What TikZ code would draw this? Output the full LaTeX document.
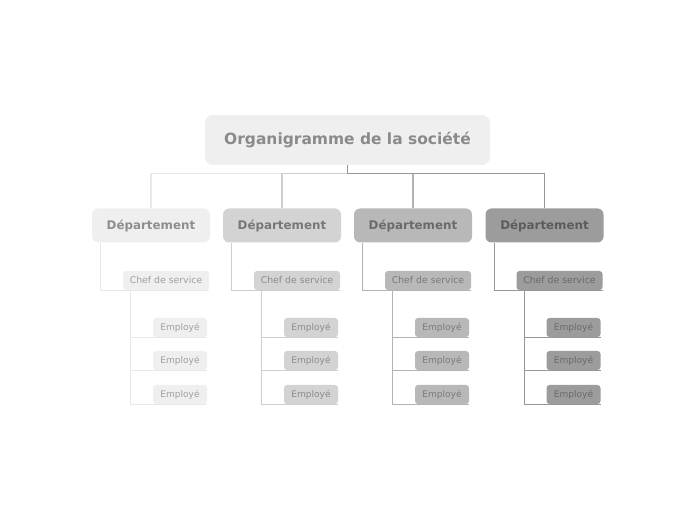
\documentclass[tikz,border=0pt]{standalone}
\usepackage{fontspec}
\setmainfont{DejaVu Sans}
\usetikzlibrary{backgrounds}
\definecolor{rootfill}{HTML}{EFEFEF}
\definecolor{roottext}{HTML}{8A8A8A}
\definecolor{fill1}{HTML}{EFEFEF}
\definecolor{fill2}{HTML}{D3D3D3}
\definecolor{fill3}{HTML}{B8B8B8}
\definecolor{fill4}{HTML}{9C9C9C}
\definecolor{line1}{HTML}{E8E8E8}
\definecolor{line2}{HTML}{CECECE}
\definecolor{line3}{HTML}{B3B3B3}
\definecolor{line4}{HTML}{979797}
\definecolor{depttext1}{HTML}{8E8E8E}
\definecolor{depttext2}{HTML}{777777}
\definecolor{depttext3}{HTML}{6A6A6A}
\definecolor{depttext4}{HTML}{5C5C5C}
\definecolor{subtext1}{HTML}{A0A0A0}
\definecolor{subtext2}{HTML}{8C8C8C}
\definecolor{subtext3}{HTML}{7A7A7A}
\definecolor{subtext4}{HTML}{6A6A6A}
\begin{document}
\begin{tikzpicture}[x=0.75pt,y=-0.75pt,
  box/.style={rounded corners=2.25pt,inner sep=0pt,align=center},
  dept/.style={box,rounded corners=4.5pt,minimum width=88.5pt,minimum height=25.5pt,font=\bfseries\fontsize{8.9}{11}\selectfont},
  chef/.style={box,minimum width=64.5pt,minimum height=14.25pt,font=\fontsize{7}{8}\selectfont},
  emp/.style={box,minimum width=40.5pt,minimum height=14.25pt,font=\fontsize{6.8}{8}\selectfont},
  link/.style={line width=1.1pt}]
\useasboundingbox (0,0) rectangle (697,520);
\node[box,rounded corners=6pt,minimum width=213.75pt,minimum height=37.5pt,fill=rootfill,text=roottext,font=\bfseries\fontsize{11.6}{13}\selectfont] (org) at (347.5,140) {Organigramme de la société};
% one branch per department
\foreach \i/\x in {1/151,2/282,3/413,4/544.5} {
  \node[dept,fill=fill\i,text=depttext\i] (d\i) at (\x,225.5) {Département};
  \node[chef,fill=fill\i,text=subtext\i] (c\i) at (\x+15,280.5) {Chef de service};
  \foreach \j/\y in {1/327.5,2/360.5,3/394.5}
    \node[emp,fill=fill\i,text=subtext\i] (e\i\j) at (\x+29,\y) {Employé};
  \begin{scope}[on background layer]
    \draw[link,line\i] (org.south) -- ++(0,8) -| (d\i.north);
    \draw[link,line\i] ([xshift=6.75pt]d\i.south west) |- (c\i.south east);
    \foreach \j in {1,2,3}
      \draw[link,line\i] ([xshift=6pt]c\i.south west) |- (e\i\j.south east);
  \end{scope}
}
\end{tikzpicture}
\end{document}
